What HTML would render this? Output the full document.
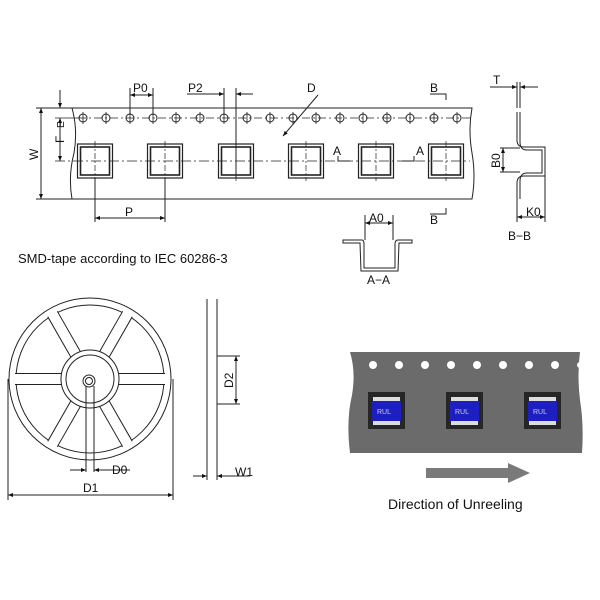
<!DOCTYPE html>
<html><head><meta charset="utf-8"><style>
body{margin:0;background:#fff}
svg{display:block}
text{font-family:"Liberation Sans",sans-serif;fill:#111}
</style></head><body>
<svg width="600" height="600" viewBox="0 0 600 600" xmlns="http://www.w3.org/2000/svg">
<defs>
<marker id="ar" viewBox="0 0 10 10" refX="10" refY="5" markerWidth="7" markerHeight="5" orient="auto-start-reverse"><path d="M0,1 L10,5 L0,9z" fill="#111"/></marker>
<g id="hole"><circle r="4" fill="none" stroke="#222" stroke-width="1"/><line x1="0" y1="-6" x2="0" y2="6" stroke="#222" stroke-width="0.8"/></g>
<g id="pocket"><rect x="-17.5" y="-17" width="35" height="34" fill="none" stroke="#222" stroke-width="1.2"/><rect x="-14.5" y="-14" width="29" height="28" fill="none" stroke="#222" stroke-width="1.6"/><line x1="0" y1="-20" x2="0" y2="20" stroke="#222" stroke-width="0.7" stroke-dasharray="6,2,2,2"/></g>
</defs>
<g stroke="#222" fill="none" stroke-width="1">
<!-- tape -->
<path d="M72,108 L472,108 Q468,130 472,153 Q476,176 472,199 L72,199 Q68,176 74,153 Q78,130 72,108"/>
<line x1="36" y1="108" x2="72" y2="108"/><line x1="36" y1="199" x2="72" y2="199"/>
<line x1="55" y1="118" x2="80" y2="118" stroke-width="0.7"/>
<line x1="55" y1="161" x2="470" y2="161" stroke-width="0.7" stroke-dasharray="10,3,2,3"/>
<line x1="78" y1="118" x2="470" y2="118" stroke-width="0.7" stroke-dasharray="8,3,2,3"/>
<line x1="41" y1="108" x2="41" y2="199" marker-start="url(#ar)" marker-end="url(#ar)"/>
<line x1="60" y1="90" x2="60" y2="108" marker-end="url(#ar)"/>
<line x1="60" y1="118" x2="60" y2="161" marker-start="url(#ar)" marker-end="url(#ar)"/>
<!-- P0 -->
<line x1="130" y1="88" x2="130" y2="115"/><line x1="153" y1="88" x2="153" y2="115"/>
<line x1="130" y1="95" x2="153" y2="95" marker-start="url(#ar)" marker-end="url(#ar)"/>
<!-- P2 -->
<line x1="224" y1="88" x2="224" y2="115"/><line x1="236" y1="88" x2="236" y2="178"/>
<line x1="187" y1="94" x2="224" y2="94" marker-end="url(#ar)"/>
<line x1="253" y1="94" x2="236" y2="94" marker-end="url(#ar)"/>
<!-- P -->
<line x1="95" y1="178" x2="95" y2="222"/><line x1="165" y1="178" x2="165" y2="222"/>
<line x1="95" y1="218" x2="165" y2="218" marker-start="url(#ar)" marker-end="url(#ar)"/>
<!-- D leader -->
<line x1="318" y1="95" x2="283" y2="136" marker-end="url(#ar)"/>
<!-- section marks -->
<polyline points="430,94 446,94 446,100"/><polyline points="430,214 446,214 446,208"/>
<polyline points="338,156 338,161 350,161"/><polyline points="414,156 414,161 402,161"/>
<!-- B-B -->
<path d="M517,112 L517,140 Q517,147 524,147 L545,147 L545,176 L524,176 Q517,176 517,183 L517,199" stroke-width="1"/>
<path d="M520,112 L520,142 Q520,150 527,150 L542,150 L542,173 L527,173 Q520,173 520,181 L520,199" stroke-width="1"/>
<line x1="517" y1="82" x2="517" y2="108"/><line x1="520" y1="82" x2="520" y2="108"/>
<line x1="490" y1="87" x2="517" y2="87" marker-end="url(#ar)"/><line x1="538" y1="87" x2="520" y2="87" marker-end="url(#ar)"/>
<line x1="500" y1="148" x2="520" y2="148"/><line x1="500" y1="172" x2="520" y2="172"/>
<line x1="503" y1="148" x2="503" y2="172" marker-start="url(#ar)" marker-end="url(#ar)"/>
<line x1="517" y1="199" x2="517" y2="222"/><line x1="545" y1="176" x2="545" y2="222"/>
<line x1="517" y1="217" x2="545" y2="217" marker-start="url(#ar)" marker-end="url(#ar)"/>
<!-- A-A -->
<path d="M343,240 L362,240 Q364,240 364,244 L364,268 L395,268 L395,244 Q395,240 398,240 L412,240 L412,243 L399,243 L398,271 L361,271 L360,243 L343,243z" stroke-width="1"/>
<line x1="365" y1="215" x2="365" y2="240"/><line x1="393" y1="215" x2="393" y2="240"/>
<line x1="365" y1="223" x2="393" y2="223" marker-start="url(#ar)" marker-end="url(#ar)"/>
</g>
<g>
<use href="#hole" x="83" y="118"/><use href="#hole" x="106" y="118"/><use href="#hole" x="130" y="118"/><use href="#hole" x="153" y="118"/><use href="#hole" x="176" y="118"/><use href="#hole" x="200" y="118"/><use href="#hole" x="224" y="118"/><use href="#hole" x="247" y="118"/><use href="#hole" x="270" y="118"/><use href="#hole" x="293" y="118"/><use href="#hole" x="316" y="118"/><use href="#hole" x="340" y="118"/><use href="#hole" x="363" y="118"/><use href="#hole" x="387" y="118"/><use href="#hole" x="410" y="118"/><use href="#hole" x="434" y="118"/><use href="#hole" x="457" y="118"/>
<use href="#pocket" x="95" y="161"/><use href="#pocket" x="165" y="161"/><use href="#pocket" x="236" y="161"/><use href="#pocket" x="306" y="161"/><use href="#pocket" x="376" y="161"/><use href="#pocket" x="446" y="161"/>
</g>
<g font-size="12">
<text x="133" y="92">P0</text><text x="188" y="92">P2</text><text x="307" y="92">D</text>
<text x="125" y="216">P</text><text x="430" y="92">B</text><text x="430" y="224">B</text>
<text x="333" y="155">A</text><text x="416" y="155">A</text>
<text x="493" y="84">T</text><text x="526" y="216">K0</text><text x="369" y="222">A0</text>
<text x="508" y="240">B−B</text><text x="367" y="284">A−A</text>
<text transform="translate(38,160) rotate(-90)">W</text>
<text transform="translate(64,128) rotate(-90)" font-size="10">E</text>
<text transform="translate(64,143) rotate(-90)">F</text>
<text transform="translate(500,168) rotate(-90)">B0</text>
</g>
<text x="18" y="263" font-size="13">SMD-tape according to IEC 60286-3</text>
<!-- reel -->
<g stroke="#222" fill="none" stroke-width="1">
<circle cx="90" cy="379" r="81"/>
<circle cx="90" cy="379" r="74"/>
<g stroke-width="12" stroke="#222" stroke-linecap="butt">
<line x1="118" y1="379" x2="165" y2="379"/><line x1="104" y1="403" x2="127.5" y2="444"/><line x1="76" y1="403" x2="52.5" y2="444"/><line x1="62" y1="379" x2="15" y2="379"/><line x1="76" y1="355" x2="52.5" y2="314"/><line x1="104" y1="355" x2="127.5" y2="314"/>
</g>
<g stroke-width="10" stroke="#fff" stroke-linecap="butt">
<line x1="118" y1="379" x2="166" y2="379"/><line x1="104" y1="403" x2="128" y2="445"/><line x1="76" y1="403" x2="52" y2="445"/><line x1="62" y1="379" x2="14" y2="379"/><line x1="76" y1="355" x2="52" y2="313"/><line x1="104" y1="355" x2="128" y2="313"/>
</g>
<circle cx="90" cy="379" r="29" fill="#fff"/>
<circle cx="90" cy="379" r="24"/>
<circle cx="89" cy="381" r="6"/><circle cx="89" cy="381" r="3.5"/>
<line x1="86" y1="386" x2="86" y2="472"/><line x1="94" y1="386" x2="94" y2="472"/>
<line x1="70" y1="470" x2="86" y2="470" marker-end="url(#ar)"/><line x1="130" y1="470" x2="94" y2="470" marker-end="url(#ar)"/>
<line x1="8" y1="379" x2="8" y2="500"/><line x1="173" y1="379" x2="173" y2="500"/>
<line x1="8" y1="495" x2="173" y2="495" marker-start="url(#ar)" marker-end="url(#ar)"/>
<!-- side view -->
<line x1="207" y1="299" x2="207" y2="463"/><line x1="217" y1="299" x2="217" y2="463"/>
<line x1="217" y1="356" x2="240" y2="356"/><line x1="217" y1="404" x2="240" y2="404"/>
<line x1="236" y1="356" x2="236" y2="404" marker-start="url(#ar)" marker-end="url(#ar)"/>
<line x1="207" y1="463" x2="207" y2="480"/><line x1="217" y1="463" x2="217" y2="480"/>
<line x1="193" y1="476" x2="207" y2="476" marker-end="url(#ar)"/><line x1="250" y1="476" x2="217" y2="476" marker-end="url(#ar)"/>
</g>
<g font-size="12"><text x="112" y="474">D0</text><text x="83" y="492">D1</text><text x="235" y="476">W1</text>
<text transform="translate(233,388) rotate(-90)">D2</text></g>
<!-- photo -->
<path d="M350,352 L580,352 Q577,375 580,400 Q584,425 582,453 L350,453 Q346,420 352,395 Q356,372 350,352z" fill="#6b6b6b"/>
<g fill="#fff"><circle cx="373" cy="365" r="4"/><circle cx="399" cy="365" r="4"/><circle cx="425" cy="365" r="4"/><circle cx="451" cy="365" r="4"/><circle cx="477" cy="365" r="4"/><circle cx="503" cy="365" r="4"/><circle cx="529" cy="365" r="4"/><circle cx="555" cy="365" r="4"/><circle cx="580" cy="365" r="3"/></g>
<g id="comp">
<rect x="368" y="392" width="37" height="37" fill="#262626"/>
<rect x="373" y="397" width="27" height="5" fill="#ddd"/>
<rect x="372" y="401" width="29" height="20" fill="#1d1fc0"/>
<rect x="373" y="421" width="27" height="4" fill="#ddd"/>
<text x="377" y="414" font-size="7" fill="#ccd" style="fill:#ccd">RUL</text>
</g>
<use href="#comp" x="78"/><use href="#comp" x="156"/>
<path d="M426,468 L508,468 L508,463 L530,473 L508,483 L508,478 L426,478z" fill="#7a7a7a"/>
<text x="388" y="509" font-size="14">Direction of Unreeling</text>
</svg>
</body></html>
